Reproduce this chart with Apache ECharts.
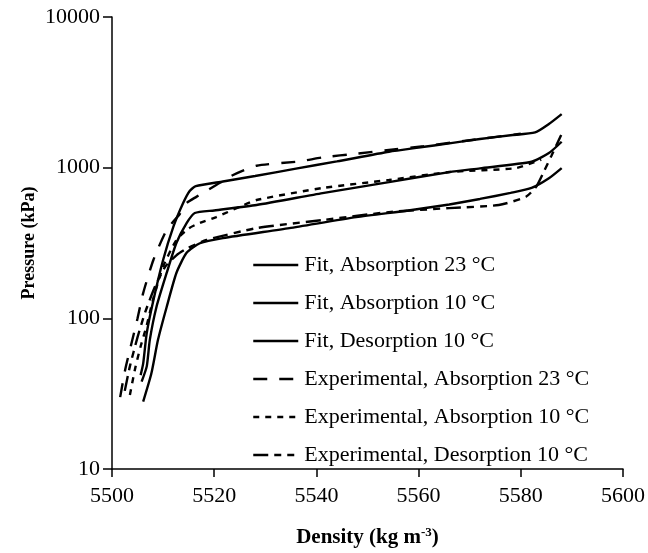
<!DOCTYPE html>
<html><head><meta charset="utf-8">
<script src="https://cdn.jsdelivr.net/npm/echarts@6/dist/echarts.min.js"></script>
<style>html,body{margin:0;padding:0;background:#fff}#c{width:648px;height:553px}</style>
</head><body><div id="c"></div>
<script>
// Series names (legend order)
const seriesNames = [
  'Fit, Absorption 23 °C',
  'Fit, Absorption 10 °C',
  'Fit, Desorption 10 °C',
  'Experimental, Absorption 23 °C',
  'Experimental, Absorption 10 °C',
  'Experimental, Desorption 10 °C'
];

// Fit, Absorption 23 °C
const fitAbs23Density  = [5505.6, 5506.1, 5506.8, 5508.1, 5510.0, 5512.0, 5513.9, 5515.2, 5516.4, 5521.7, 5528, 5536, 5544, 5554.2, 5560, 5566, 5572, 5578, 5582.8, 5585.5, 5588];
const fitAbs23Pressure = [42, 50, 80, 132, 244, 404, 580, 700, 755, 810, 880, 985, 1100, 1276, 1360, 1450, 1550, 1640, 1714, 1950, 2268];

// Fit, Absorption 10 °C
const fitAbs10Density  = [5505.8, 5506.8, 5507.4, 5508.7, 5510.7, 5512.6, 5514.6, 5516.2, 5520, 5528.3, 5541.2, 5554.2, 5566, 5572, 5582.1, 5585.5, 5588];
const fitAbs10Pressure = [38, 48, 72, 119, 200, 316, 428, 500, 520, 565, 678, 802, 935, 990, 1094, 1250, 1486];

// Fit, Desorption 10 °C
const fitDes10Density  = [5506.1, 5507.7, 5509, 5510.7, 5512.6, 5514.6, 5517.2, 5521.7, 5534.7, 5547.8, 5558, 5566, 5572, 5578, 5582.1, 5585.5, 5588];
const fitDes10Pressure = [28, 43, 72, 119, 200, 272, 315, 341, 397, 470, 520, 570, 620, 680, 733, 850, 993];

// Experimental, Absorption 23 °C
const expAbs23Density  = [5501.6, 5502.6, 5503.8, 5505.0, 5506.1, 5508.1, 5510.7, 5513.3, 5514.6, 5516.5, 5520.4, 5523.6, 5528.3, 5536.7, 5541.2, 5548, 5554.2, 5561, 5570, 5580];
const expAbs23Pressure = [30, 46, 68, 100, 147, 244, 386, 495, 582, 640, 767, 890, 1030, 1100, 1170, 1240, 1310, 1390, 1520, 1680];

// Experimental, Absorption 10 °C
const expAbs10Density  = [5503.5, 5504.5, 5505.6, 5506.8, 5508, 5510, 5512.6, 5515, 5517.2, 5520.4, 5525, 5528.3, 5541.2, 5554.2, 5566, 5579, 5584];
const expAbs10Pressure = [31, 46, 65, 90, 132, 220, 331, 395, 430, 470, 550, 610, 733, 828, 935, 993, 1130];

// Experimental, Desorption 10 °C
const expDes10Density  = [5502.5, 5503.5, 5505, 5506.5, 5508.5, 5510.5, 5512.6, 5514.6, 5518.5, 5528.3, 5541.2, 5554.2, 5566, 5575.7, 5581, 5583, 5584.5, 5586, 5587.9];
const expDes10Pressure = [33, 48, 75, 110, 165, 222, 262, 290, 331, 397, 449, 507, 539, 565, 641, 747, 940, 1200, 1645];

// Axis ticks
const xTicks = [5500, 5520, 5540, 5560, 5580, 5600];
const yTicks = [10, 100, 1000, 10000];

function pairs(d, p) { return d.map((x, i) => [x, p[i]]); }

const seriesData = [
  pairs(fitAbs23Density, fitAbs23Pressure),
  pairs(fitAbs10Density, fitAbs10Pressure),
  pairs(fitDes10Density, fitDes10Pressure),
  pairs(expAbs23Density, expAbs23Pressure),
  pairs(expAbs10Density, expAbs10Pressure),
  pairs(expDes10Density, expDes10Pressure)
];
const dashTypes = ['solid', 'solid', 'solid', [14, 12], [6, 6], [15, 6, 7, 6, 7, 6]];

const FONT = "'Liberation Serif', 'Times New Roman', serif";
const chart = echarts.init(document.getElementById('c'));
chart.setOption({
  animation: false,
  backgroundColor: '#fff',
  grid: { left: 112, right: 24, top: 17, bottom: 83 },
  legend: {
    data: seriesNames,
    orient: 'vertical',
    left: 252,
    top: 254,
    padding: 0,
    itemWidth: 45,
    itemHeight: 14,
    itemGap: 16,
    selectedMode: false,
    itemStyle: { opacity: 0 },
    lineStyle: { width: 2.5 },
    textStyle: { fontFamily: FONT, fontSize: 22, color: '#000', lineHeight: 21, padding: [0, 0, 0, 1] }
  },
  xAxis: {
    type: 'value',
    min: xTicks[0], max: xTicks[xTicks.length - 1], interval: 20,
    name: '{b|Density (kg m}{s|-3}{b|)}',
    nameLocation: 'middle',
    nameGap: 57,
    nameMoveOverlap: false,
    nameTextStyle: {
      rich: {
        b: { fontFamily: FONT, fontWeight: 'bold', fontSize: 21, color: '#000', lineHeight: 23 },
        s: { fontFamily: FONT, fontWeight: 'bold', fontSize: 13, color: '#000', verticalAlign: 'top', lineHeight: 13 }
      }
    },
    axisLine: { lineStyle: { color: '#000', width: 1.5 } },
    axisTick: { length: 8, lineStyle: { color: '#000', width: 1.5 } },
    axisLabel: { fontFamily: FONT, fontSize: 22, color: '#000', margin: 16, formatter: v => String(v) },
    splitLine: { show: false }
  },
  yAxis: {
    type: 'log', logBase: 10,
    min: yTicks[0], max: yTicks[yTicks.length - 1],
    name: 'Pressure (kPa)',
    nameLocation: 'middle',
    nameRotate: 90,
    nameGap: 74,
    nameMoveOverlap: false,
    nameTextStyle: { fontFamily: FONT, fontWeight: 'bold', fontSize: 18, color: '#000' },
    axisLine: { show: true, lineStyle: { color: '#000', width: 1.5 } },
    axisTick: { show: true, length: 9, lineStyle: { color: '#000', width: 1.5 } },
    minorTick: { show: false },
    axisLabel: { fontFamily: FONT, fontSize: 22, color: '#000', margin: 12, formatter: v => String(Math.round(v)) },
    splitLine: { show: false }
  },
  series: seriesData.map((d, i) => ({
    name: seriesNames[i],
    type: 'line',
    data: d,
    showSymbol: false,
    symbol: 'none',
    smooth: 0.2,
    lineStyle: { color: '#000', width: 2.4, type: dashTypes[i] },
    itemStyle: { color: '#000' }
  }))
});
</script>
</body></html>
